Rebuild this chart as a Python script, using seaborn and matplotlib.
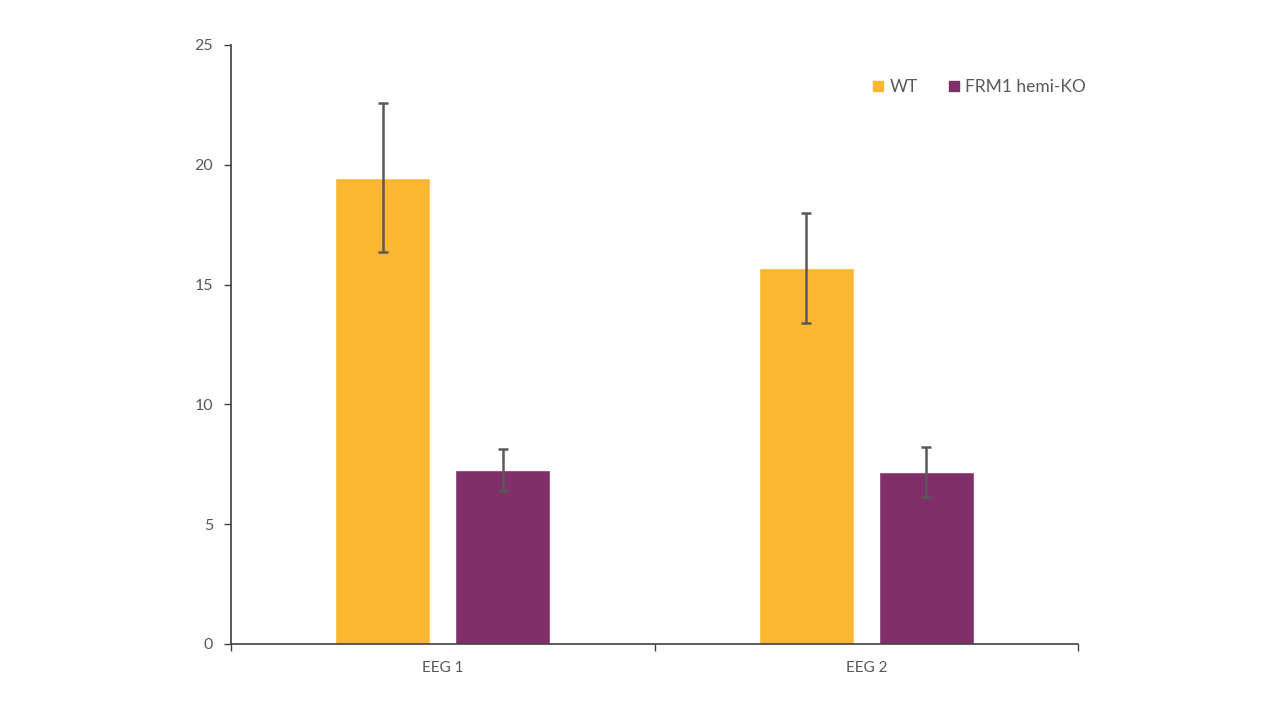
import matplotlib
matplotlib.use("Agg")
import matplotlib.pyplot as plt
import seaborn as sns
import pandas as pd
import numpy as np

categories = ["EEG 1", "EEG 2"]
groups = ["WT", "FRM1 hemi-KO"]
wt_values = [19.45, 15.69]
ko_values = [7.26, 7.18]
wt_errors = [3.11, 2.28]
ko_errors = [0.88, 1.06]
y_ticks = [0, 5, 10, 15, 20, 25]
colors = ["#FBB632", "#812F69"]

df = pd.DataFrame({
    "category": categories * 2,
    "group": [groups[0]] * 2 + [groups[1]] * 2,
    "value": wt_values + ko_values,
    "err": wt_errors + ko_errors,
})

sns.set_theme(style="white")
plt.rcParams["font.family"] = ["Lato", "DejaVu Sans"]

fig = plt.figure(figsize=(12.8, 7.2), dpi=100)
ax = fig.add_axes([0.1805, 0.1056, 0.6617, 0.8319])

sns.barplot(data=df, x="category", y="value", hue="group", order=categories,
            hue_order=groups, palette=colors, width=0.566, gap=0.208,
            errorbar=None, saturation=1, ax=ax)

# error bars placed at bar centers
for container, grp in zip(ax.containers, groups):
    sub = df[df["group"] == grp].set_index("category").loc[categories]
    xs = [p.get_x() + p.get_width() / 2 for p in container.patches]
    ax.errorbar(xs, sub["value"].values, yerr=sub["err"].values, fmt="none",
                ecolor="#595959", elinewidth=1.8, capsize=3.5, capthick=1.8)

ax.set_xlim(-0.5, 1.5)
ax.set_ylim(0, 25)
ax.set_yticks(y_ticks)
ax.set_yticklabels([str(t) for t in y_ticks])
ax.set_xlabel("")
ax.set_ylabel("")

# category labels without ticks, boundary ticks as minor
ax.set_xticks([0, 1])
ax.set_xticklabels(categories)
ax.set_xticks([-0.5, 0.5, 1.5], minor=True)
ax.tick_params(axis="x", which="major", length=0, pad=12, labelsize=11,
               labelcolor="#595959")
ax.tick_params(axis="x", which="minor", length=5, width=1, color="#404040",
               direction="out", bottom=True)
ax.tick_params(axis="y", which="major", length=5, width=1, color="#404040",
               direction="out", left=True, pad=8, labelsize=11.5,
               labelcolor="#595959")

for s in ["top", "right"]:
    ax.spines[s].set_visible(False)
for s in ["left", "bottom"]:
    ax.spines[s].set_color("#404040")
    ax.spines[s].set_linewidth(1.2)

handles = [plt.Line2D([], [], marker="s", linestyle="none", markersize=7.5,
                      markerfacecolor=c, markeredgecolor=c) for c in colors]
leg = ax.legend(handles, groups, loc="upper right", bbox_to_anchor=(1.028, 0.97),
                ncol=2, frameon=False, fontsize=12.5, handletextpad=0.15,
                columnspacing=1.6, handlelength=1.0)
for t in leg.get_texts():
    t.set_color("#595959")

fig.savefig("out.png", dpi=100)
